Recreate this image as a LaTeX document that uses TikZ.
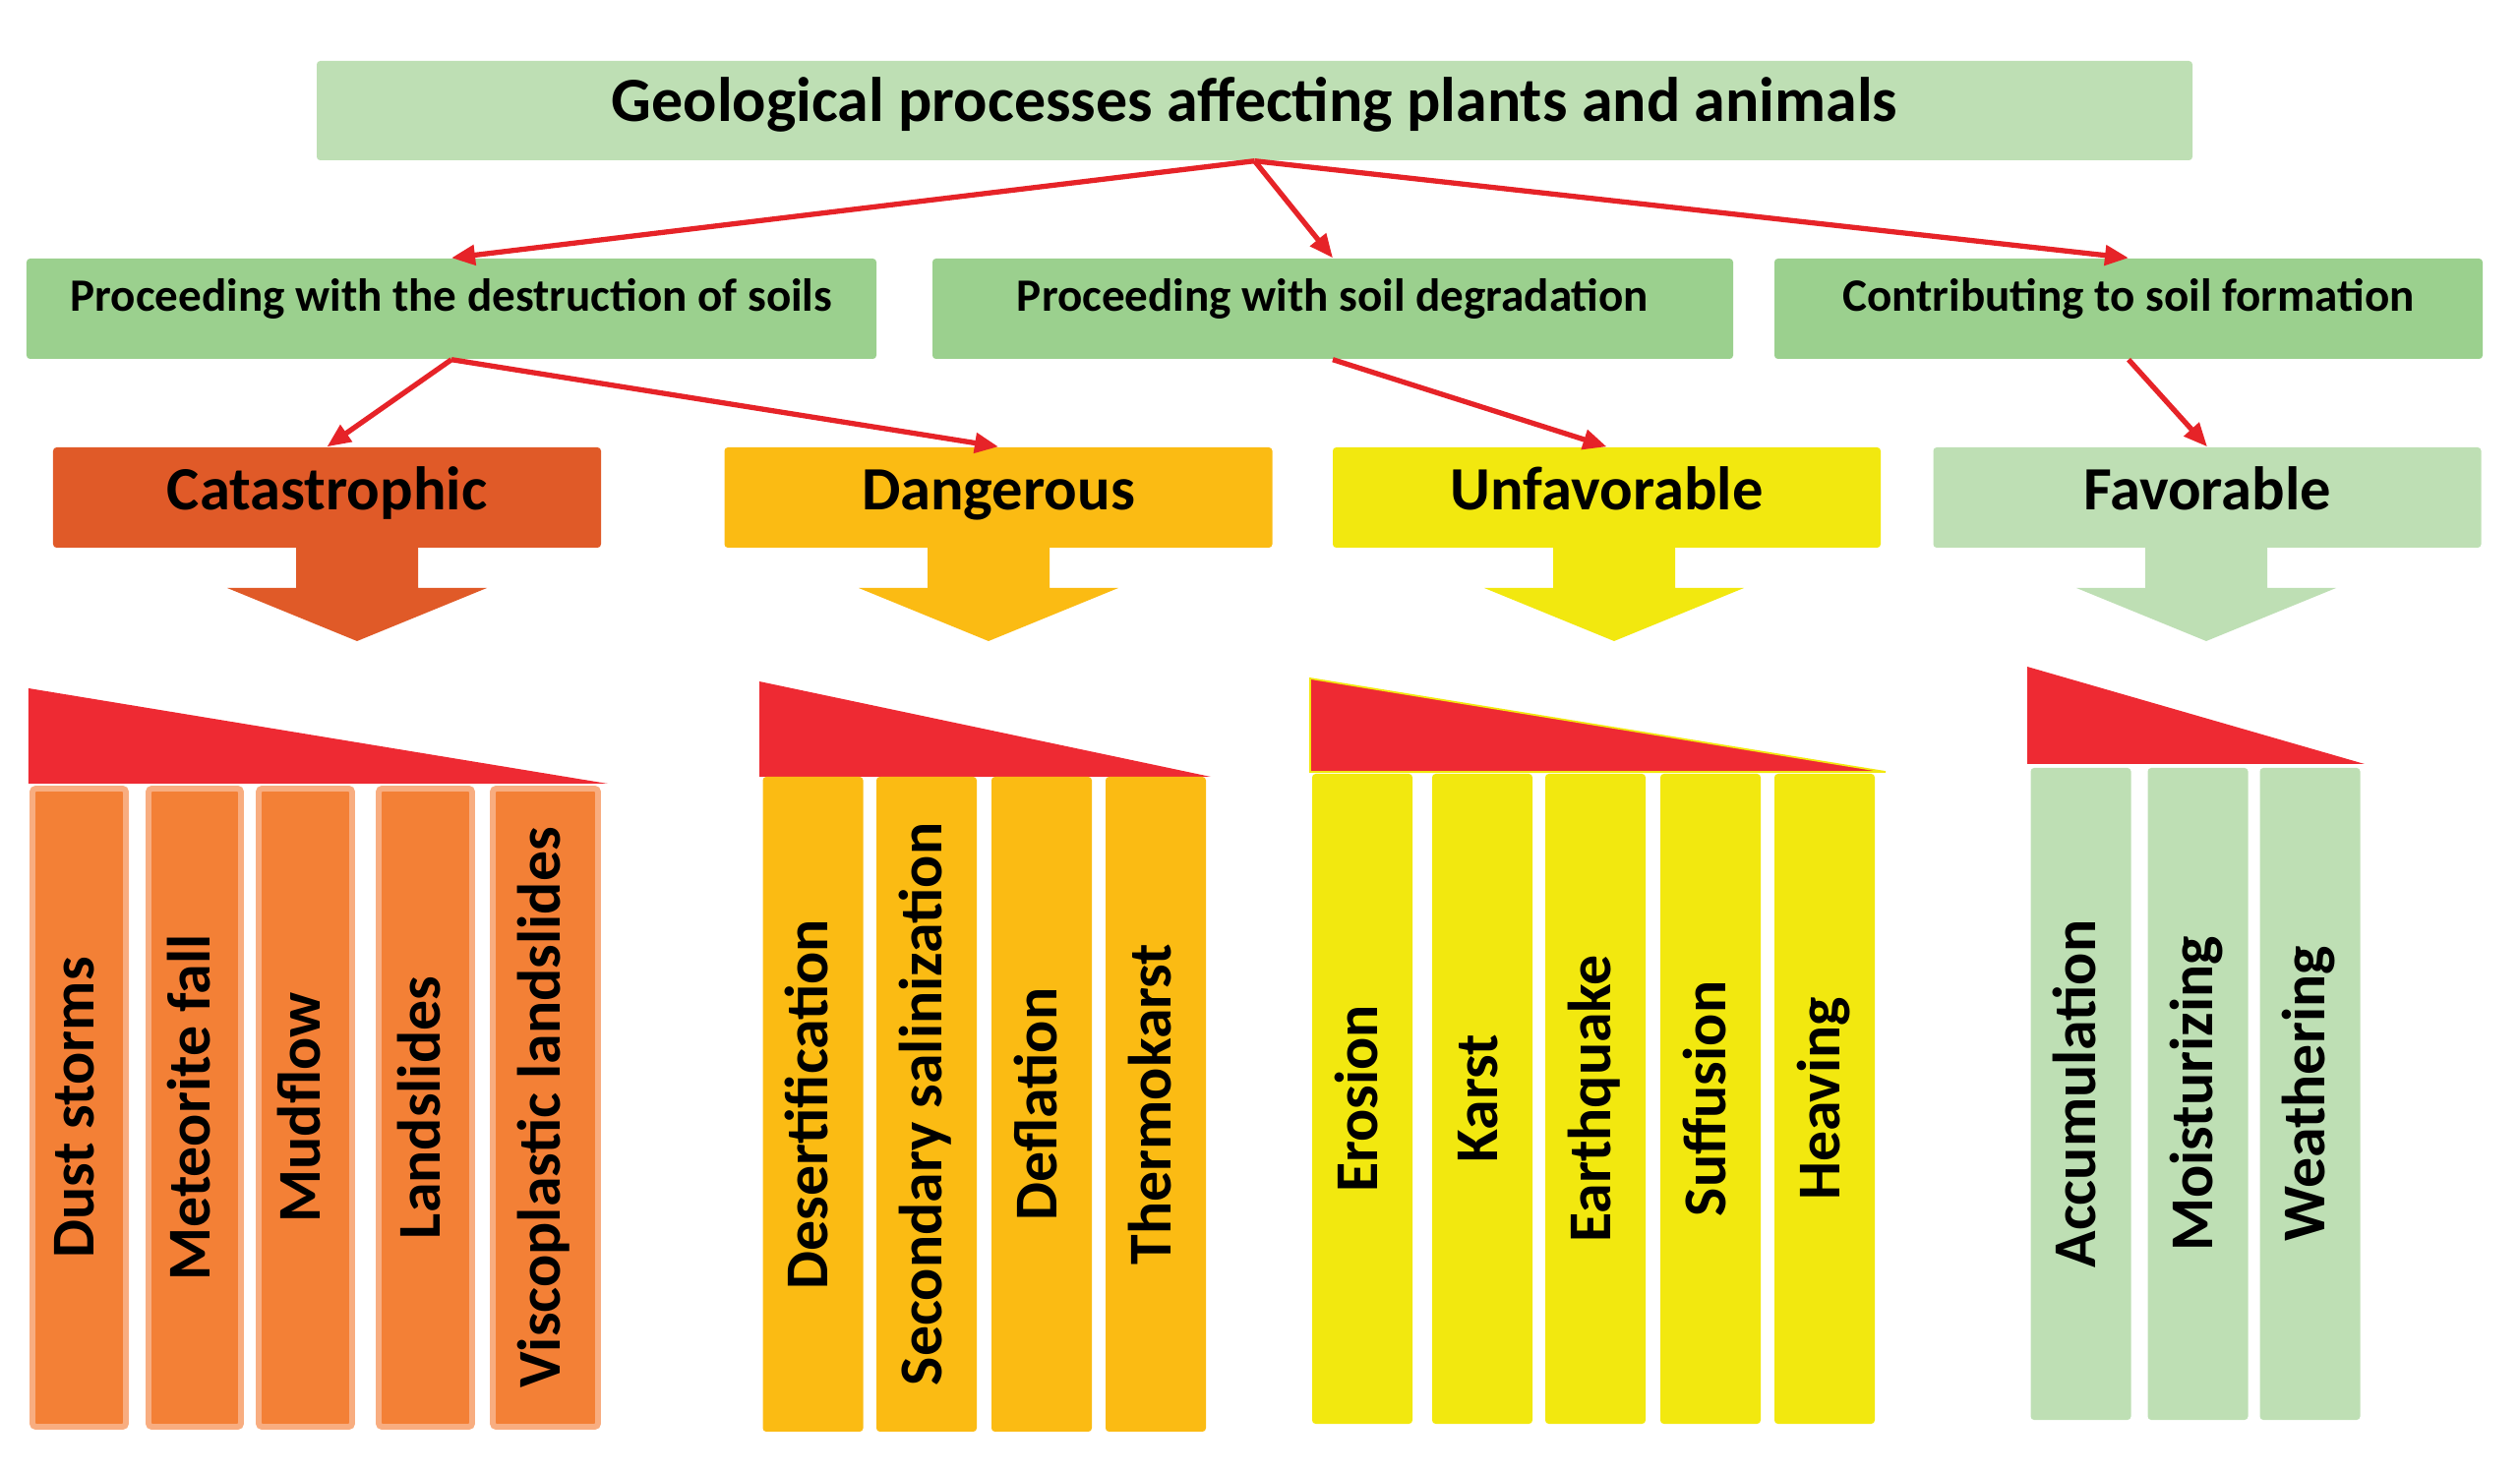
\documentclass[tikz,border=0pt]{standalone}
\usepackage{fontspec}
\setmainfont{Carlito}
\definecolor{titlegreen}{RGB}{190, 223, 180}
\definecolor{midgreen}{RGB}{155, 208, 142}
\definecolor{catred}{RGB}{224, 90, 40}
\definecolor{catcol}{RGB}{243, 128, 54}
\definecolor{catrim}{RGB}{248, 173, 128}
\definecolor{dangamber}{RGB}{251, 187, 19}
\definecolor{unfyellow}{RGB}{242, 232, 15}
\definecolor{wedgered}{RGB}{238, 42, 51}
\definecolor{linkred}{RGB}{230, 35, 40}
\usepackage{tikz}
\usetikzlibrary{arrows.meta, positioning}

\begin{document}
\begin{tikzpicture}[
  link/.style={-{Triangle[length=0.24cm, width=0.2cm]}, line width=1.5pt, linkred},
  headbox/.style={rounded corners=1pt, inner xsep=0pt, inner ysep=0pt, font=\bfseries\fontsize{18.2}{20}\selectfont, text height=0.62cm, text depth=0.39cm},
  groupbox/.style={fill=midgreen, rounded corners=1pt, inner xsep=0pt, inner ysep=0pt, minimum height=1.02cm, font=\bfseries\fontsize{13.4}{15}\selectfont, text height=0.54cm, text depth=0.48cm},
  levelbox/.style={rounded corners=1pt, inner xsep=0pt, inner ysep=0pt, minimum width=5.57cm, minimum height=1.02cm, font=\bfseries\fontsize{17.8}{20}\selectfont, text height=0.64cm, text depth=0.38cm},
  colbox/.style={rotate=90, rounded corners=1pt, inner sep=0pt, minimum height=1.02cm, font=\bfseries\fontsize{17.6}{20}\selectfont, text height=0.46cm, text depth=0.16cm}
]
  \useasboundingbox (0,0) rectangle (25.62,-14.96);

  % Title
  \node[headbox, fill=titlegreen, minimum width=19.07cm, minimum height=1.01cm] (title) at (12.755, -1.125) {Geological processes affecting plants and animals};

  % Groups
  \node[groupbox, minimum width=8.64cm] (destr) at (4.59, -3.14) {Proceeding with the destruction of soils};
  \node[groupbox, minimum width=8.14cm] (degr) at (13.55, -3.14) {Proceeding with soil degradation};
  \node[groupbox, minimum width=7.20cm] (form) at (21.64, -3.14) {Contributing to soil formation};

  % Levels
  \node[levelbox, fill=catred] (cat) at (3.325, -5.06) {Catastrophic};
  \node[levelbox, fill=dangamber] (dang) at (10.15, -5.06) {Dangerous};
  \node[levelbox, fill=unfyellow] (unf) at (16.335, -5.06) {Unfavorable};
  \node[levelbox, fill=titlegreen] (fav) at (22.44, -5.06) {Favorable};

  % Links
  \draw[link] (title.south) -- (destr.north);
  \draw[link] (title.south) -- (degr.north);
  \draw[link] (title.south) -- (form.north);
  \draw[link] (destr.south) -- (cat.north);
  \draw[link] (destr.south) -- (dang.north);
  \draw[link] (degr.south) -- (unf.north);
  \draw[link] (form.south) -- (fav.north);

  % Block arrows
  \fill[catred] (3.01,-5.56) -- (4.25,-5.56) -- (4.25,-5.98) -- (4.95,-5.98) -- (3.63,-6.52) -- (2.31,-5.98) -- (3.01,-5.98) -- cycle;
  \fill[dangamber] (9.43,-5.56) -- (10.67,-5.56) -- (10.67,-5.98) -- (11.37,-5.98) -- (10.05,-6.52) -- (8.73,-5.98) -- (9.43,-5.98) -- cycle;
  \fill[unfyellow] (15.79,-5.56) -- (17.03,-5.56) -- (17.03,-5.98) -- (17.73,-5.98) -- (16.41,-6.52) -- (15.09,-5.98) -- (15.79,-5.98) -- cycle;
  \fill[titlegreen] (21.81,-5.56) -- (23.05,-5.56) -- (23.05,-5.98) -- (23.75,-5.98) -- (22.43,-6.52) -- (21.11,-5.98) -- (21.81,-5.98) -- cycle;

  % Wedges
  \fill[wedgered] (0.29,-7.00) -- (0.29,-7.97) -- (6.18,-7.97) -- cycle;
  \fill[wedgered] (7.72,-6.93) -- (7.72,-7.90) -- (12.31,-7.90) -- cycle;
  \filldraw[fill=wedgered, draw=unfyellow, line width=0.5pt] (13.32,-6.90) -- (13.32,-7.85) -- (19.17,-7.85) -- cycle;
  \fill[wedgered] (20.61,-6.78) -- (20.61,-7.77) -- (24.04,-7.77) -- cycle;

  % Catastrophic columns
  \node[colbox, fill=catcol, draw=catrim, line width=1.7pt, minimum width=6.49cm, minimum height=0.95cm] (dust) at (0.805, -11.265) {Dust storms};
  \node[colbox, fill=catcol, draw=catrim, line width=1.7pt, minimum width=6.49cm, minimum height=0.94cm] (meteor) at (1.98, -11.265) {Meteorite fall};
  \node[colbox, fill=catcol, draw=catrim, line width=1.7pt, minimum width=6.49cm, minimum height=0.95cm] (mud) at (3.105, -11.265) {Mudflow};
  \node[colbox, fill=catcol, draw=catrim, line width=1.7pt, minimum width=6.49cm, minimum height=0.95cm] (slides) at (4.325, -11.265) {Landslides};
  \node[colbox, fill=catcol, draw=catrim, line width=1.7pt, minimum width=6.49cm, minimum height=1.07cm] (visco) at (5.545, -11.265) {Viscoplastic landslides};

  % Dangerous columns
  \node[colbox, fill=dangamber, minimum width=6.66cm] (desert) at (8.265, -11.23) {Desertification};
  \node[colbox, fill=dangamber, minimum width=6.66cm] (salin) at (9.42, -11.23) {Secondary salinization};
  \node[colbox, fill=dangamber, minimum width=6.66cm] (defl) at (10.59, -11.23) {Deflation};
  \node[colbox, fill=dangamber, minimum width=6.66cm] (thermo) at (11.75, -11.23) {Thermokarst};

  % Unfavorable columns
  \node[colbox, fill=unfyellow, minimum width=6.61cm] (eros) at (13.85, -11.175) {Erosion};
  \node[colbox, fill=unfyellow, minimum width=6.61cm] (karst) at (15.07, -11.175) {Karst};
  \node[colbox, fill=unfyellow, minimum width=6.61cm] (quake) at (16.22, -11.175) {Earthquake};
  \node[colbox, fill=unfyellow, minimum width=6.61cm] (suff) at (17.39, -11.175) {Suffusion};
  \node[colbox, fill=unfyellow, minimum width=6.61cm] (heave) at (18.55, -11.175) {Heaving};

  % Favorable columns
  \node[colbox, fill=titlegreen, minimum width=6.63cm] (accum) at (21.155, -11.125) {Accumulation};
  \node[colbox, fill=titlegreen, minimum width=6.63cm] (moist) at (22.345, -11.125) {Moisturizing};
  \node[colbox, fill=titlegreen, minimum width=6.63cm] (weath) at (23.485, -11.125) {Weathering};
\end{tikzpicture}
\end{document}
